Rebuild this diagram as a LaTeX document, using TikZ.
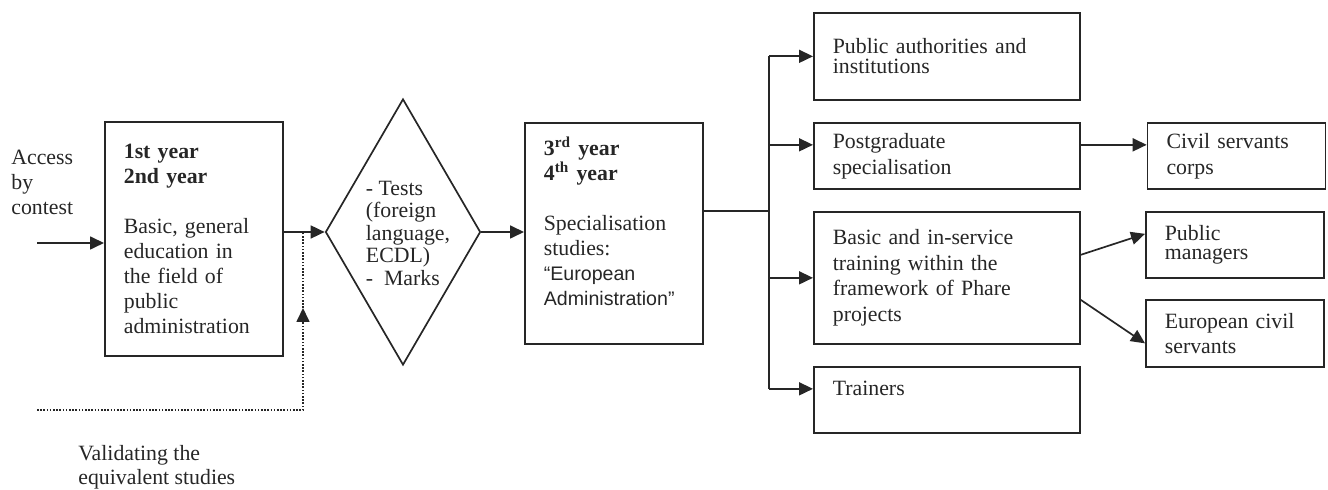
\documentclass[tikz,border=0pt]{standalone}
\usepackage{fontspec}
\setmainfont{Liberation Serif}
\newfontfamily\arialfont{Liberation Sans}
\usepackage{tikz}
\usetikzlibrary{arrows.meta, calc, positioning, shapes.geometric}
\usepackage{xcolor}
\definecolor{InkGray}{RGB}{38, 38, 38}
\tikzset{%
  box/.style={%
    rectangle,
    draw=InkGray,
    line width=0.85pt,
    anchor=north west,
    align=left,
    inner xsep=9.5pt,
    inner ysep=2pt,
    text=InkGray,
    font={\fontsize{10.9}{12.5}\selectfont}%
  },
  gate/.style={%
    diamond,
    draw=InkGray,
    line width=0.85pt,
    minimum width=77.5pt,
    minimum height=133pt,
    inner sep=0pt%
  },
  annotate/.style={%
    text=InkGray,
    align=left,
    inner sep=0pt,
    font={\fontsize{10.9}{12.5}\selectfont}%
  },
  signal/.style={%
    color=InkGray,
    line width=0.85pt%
  },
  arrow/.style={-{Triangle[length=7pt, width=6.5pt]}},
  validate/.style={dash pattern=on 0.8pt off 0.8pt}
}

\begin{document}
\begin{tikzpicture}[x=0.5pt, y=-0.5pt]
    \useasboundingbox (0, 0) rectangle (1328, 490);

    % main path
    \node [box, text width=70pt, minimum height=117pt] (year12) at (104, 121)
      {\textbf{1st year}\\\textbf{2nd year}\\[12.5pt]Basic, general\\education in\\the field of\\public\\administration};
    \node [gate] (decide) at (403, 232) {};
    \node [annotate, font={\fontsize{10.9}{11.25}\selectfont}] (tests) at (408, 233)
      {- Tests\\(foreign\\language,\\ECDL)\\-\enspace Marks};
    \node [box, text width=70pt, minimum height=110.5pt] (year34) at (524, 122)
      {\textbf{3\textsuperscript{rd} year}\\\textbf{4\textsuperscript{th} year}\\[12.5pt]Specialisation\\studies:\\{\arialfont\fontsize{9.8}{12.5}\selectfont “European\\Administration”}\\[-4.5pt]\strut};

    % outcomes
    \node [box, text width=114pt, minimum height=43.5pt, font={\fontsize{10.9}{10}\selectfont}] (authorities) at (813, 12)
      {Public authorities and\\institutions};
    \node [box, text width=114pt, minimum height=33pt, font={\fontsize{10.9}{13}\selectfont}] (postgrad) at (813, 122)
      {Postgraduate\\specialisation};
    \node [box, text width=114pt, minimum height=66pt, font={\fontsize{10.9}{12.75}\selectfont}] (training) at (813, 211)
      {Basic and in-service\\training within the\\framework of Phare\\projects};
    \node [box, text width=114pt, minimum height=33pt] (trainers) at (813, 366)
      {Trainers\\[-4.5pt]\strut};
    \node [box, text width=70pt, minimum height=33pt, font={\fontsize{10.9}{13}\selectfont}, right=33pt of postgrad.north east, anchor=north west] (corps)
      {Civil servants\\corps};
    \node [box, text width=70pt, minimum height=33pt, font={\fontsize{10.9}{9.5}\selectfont}] (managers) at (1145, 211)
      {Public\\managers};
    \node [box, text width=70pt, minimum height=33.5pt] (eurocivil) at (1145, 299)
      {European civil\\servants};

    % side notes
    \node [annotate, anchor=west] (access) at (11, 182) {Access\\by\\contest};
    \node [annotate, anchor=west, font={\fontsize{10.9}{12}\selectfont}] (validating) at (78, 467)
      {Validating the\\equivalent studies};

    \coordinate (entry) at (37, 243);
    \coordinate (valid-start) at (37, 410);
    \coordinate (valid-corner) at (303, 410);
    \coordinate (valid-tip) at (303, 308);
    \coordinate (split) at (769, 211);
    \coordinate (postgrad-in) at ($(postgrad.west)+(0, -11)$);
    \coordinate (trainers-in) at ($(trainers.west)+(0, -11)$);

    \draw [arrow, signal]
      (entry) -- (entry -| year12.west);
    \draw [arrow, signal]
      (year12.east |- decide.west) -- (decide.west);
    \draw [arrow, signal, validate]
      (valid-start) -- (valid-corner) -- (valid-tip);
    \draw [signal, validate]
      (valid-tip) -- (valid-corner |- decide.west);
    \draw [arrow, signal]
      (decide.east) -- (decide.east -| year34.west);

    \draw [signal]
      (split -| year34.east) -- (split);
    \draw [signal]
      (split |- authorities.west) -- (split |- trainers-in);
    \draw [arrow, signal]
      (split |- authorities.west) -- (authorities.west);
    \draw [arrow, signal]
      (split |- postgrad-in) -- (postgrad-in);
    \draw [arrow, signal]
      (split |- training.west) -- (training.west);
    \draw [arrow, signal]
      (split |- trainers-in) -- (trainers-in);

    \draw [arrow, signal]
      (postgrad-in -| postgrad.east) -- (postgrad-in -| corps.west);
    \draw [arrow, signal]
      ($(training.east)+(0, -23)$) -- ($(managers.west)+(0, -11)$);
    \draw [arrow, signal]
      ($(training.east)+(0, 22)$) -- ($(eurocivil.west)+(0, 10)$);
  \end{tikzpicture}
\end{document}
